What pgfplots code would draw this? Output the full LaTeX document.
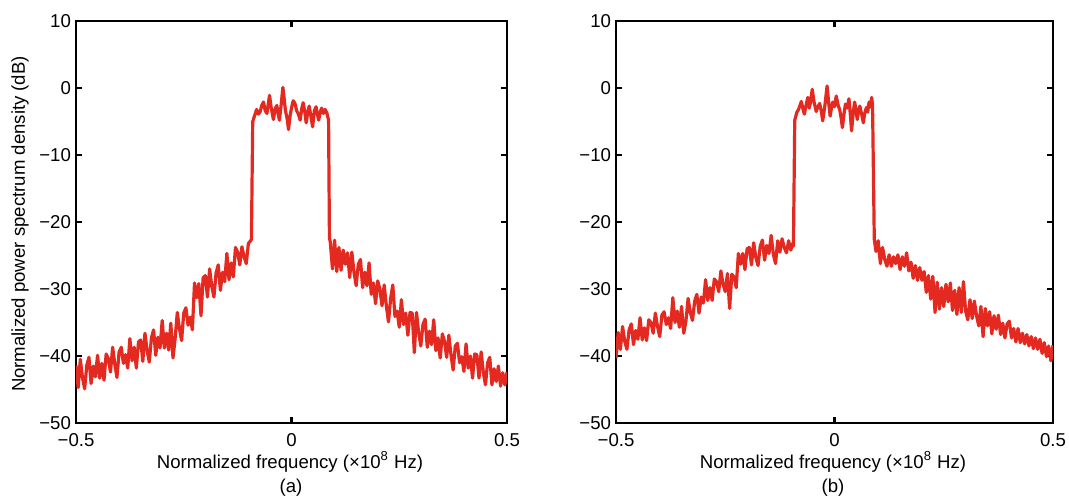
\documentclass[border=0pt]{standalone}
\usepackage{fontspec}
\setmainfont{Liberation Sans}
\usepackage{pgfplots}
\usepackage{pgfplotstable}
\pgfplotsset{compat=1.18}
\definecolor{psdred}{RGB}{228,42,32}

% Power spectrum density, case (a)
\pgfplotstableread{
x y
-0.500 -41.4
-0.495 -44.7
-0.490 -40.5
-0.485 -43.2
-0.480 -44.9
-0.475 -41.4
-0.470 -40.2
-0.465 -44.1
-0.460 -41.5
-0.455 -43.1
-0.450 -39.9
-0.445 -43.3
-0.440 -41.1
-0.435 -43.6
-0.430 -39.7
-0.425 -40.4
-0.420 -42.4
-0.415 -38.7
-0.410 -41.2
-0.405 -43.2
-0.400 -39.4
-0.395 -38.7
-0.390 -41.1
-0.385 -39.8
-0.380 -41.8
-0.375 -37.4
-0.370 -40.7
-0.365 -38.7
-0.360 -41.8
-0.355 -37.9
-0.350 -37.6
-0.345 -40.8
-0.340 -36.6
-0.335 -39.2
-0.330 -40.9
-0.325 -37.3
-0.320 -36.1
-0.315 -39.9
-0.310 -37.2
-0.305 -38.8
-0.300 -34.7
-0.295 -38.8
-0.290 -36.6
-0.285 -39.1
-0.280 -35.1
-0.275 -40.3
-0.270 -37.4
-0.265 -33.5
-0.260 -35.9
-0.255 -37.7
-0.250 -33.6
-0.245 -32.8
-0.240 -35.4
-0.235 -34.2
-0.230 -36.1
-0.225 -29.1
-0.220 -31.3
-0.215 -29.2
-0.210 -34.0
-0.205 -28.3
-0.200 -28.0
-0.195 -31.2
-0.190 -27.0
-0.185 -29.6
-0.180 -31.2
-0.175 -27.6
-0.170 -26.4
-0.165 -30.2
-0.160 -27.5
-0.155 -28.9
-0.150 -24.7
-0.145 -28.6
-0.140 -26.1
-0.135 -28.2
-0.130 -23.8
-0.125 -24.5
-0.120 -26.4
-0.115 -23.7
-0.110 -25.2
-0.105 -26.2
-0.100 -23.2
-0.095 -22.8
-0.093 -22.6
-0.090 -5.0
-0.085 -4.0
-0.081 -3.2
-0.077 -3.9
-0.073 -3.6
-0.069 -2.6
-0.065 -2.1
-0.061 -3.4
-0.057 -3.8
-0.054 -2.4
-0.051 -1.1
-0.047 -3.0
-0.042 -4.7
-0.038 -3.1
-0.034 -2.6
-0.031 -3.9
-0.028 -4.8
-0.024 -2.5
-0.020 0.1
-0.017 -1.6
-0.014 -3.4
-0.010 -4.6
-0.007 -6.2
-0.003 -4.0
0.001 -2.7
0.004 -1.9
0.008 -2.3
0.012 -3.4
0.016 -3.9
0.020 -4.8
0.024 -3.0
0.027 -2.2
0.031 -3.6
0.034 -5.2
0.038 -3.5
0.041 -2.7
0.045 -4.2
0.049 -5.8
0.053 -3.4
0.057 -2.8
0.060 -3.9
0.063 -4.8
0.067 -3.5
0.070 -3.0
0.074 -3.8
0.078 -3.2
0.082 -3.7
0.086 -4.8
0.088 -22.4
0.090 -23.0
0.095 -27.0
0.100 -22.7
0.105 -27.4
0.110 -23.8
0.115 -27.2
0.120 -24.2
0.125 -26.3
0.130 -24.6
0.135 -28.3
0.140 -24.5
0.145 -27.5
0.150 -29.5
0.155 -26.3
0.160 -25.6
0.165 -29.8
0.170 -27.5
0.175 -29.5
0.180 -26.1
0.185 -30.8
0.190 -29.1
0.195 -32.2
0.200 -28.8
0.205 -30.0
0.210 -32.5
0.215 -29.4
0.220 -32.5
0.225 -34.9
0.230 -31.4
0.235 -29.4
0.240 -34.1
0.245 -33.3
0.250 -35.7
0.255 -31.6
0.260 -35.3
0.265 -33.6
0.270 -36.9
0.275 -33.5
0.280 -33.6
0.285 -39.5
0.290 -33.5
0.295 -36.5
0.300 -38.5
0.305 -35.3
0.310 -34.5
0.315 -38.7
0.320 -36.3
0.325 -38.3
0.330 -34.6
0.335 -39.2
0.340 -37.3
0.345 -40.3
0.350 -36.7
0.355 -37.8
0.360 -40.2
0.365 -36.9
0.370 -39.8
0.375 -42.1
0.380 -38.5
0.385 -38.1
0.390 -41.0
0.395 -40.1
0.400 -42.3
0.405 -38.2
0.410 -41.8
0.415 -40.0
0.420 -43.3
0.425 -39.7
0.430 -39.8
0.435 -43.3
0.440 -39.4
0.445 -42.4
0.450 -44.3
0.455 -41.0
0.460 -40.2
0.465 -44.3
0.470 -41.9
0.475 -43.8
0.480 -41.5
0.485 -44.5
0.490 -42.5
0.495 -44.3
0.500 -42.4
}\specA

% Power spectrum density, case (b)
\pgfplotstableread{
x y
-0.500 -40.3
-0.495 -36.5
-0.490 -39.0
-0.485 -35.6
-0.480 -37.8
-0.475 -39.0
-0.470 -36.1
-0.465 -35.2
-0.460 -38.3
-0.455 -36.2
-0.450 -37.5
-0.445 -34.3
-0.440 -37.6
-0.435 -35.8
-0.430 -37.7
-0.425 -34.6
-0.420 -35.0
-0.415 -36.6
-0.410 -33.6
-0.405 -35.6
-0.400 -37.1
-0.395 -33.9
-0.390 -33.4
-0.385 -35.3
-0.380 -34.3
-0.375 -35.9
-0.370 -31.3
-0.365 -35.0
-0.360 -33.3
-0.355 -35.7
-0.350 -32.6
-0.345 -36.6
-0.340 -34.8
-0.335 -31.4
-0.330 -33.5
-0.325 -34.7
-0.320 -31.8
-0.315 -30.8
-0.310 -33.6
-0.305 -31.2
-0.300 -32.1
-0.295 -28.6
-0.290 -31.7
-0.285 -29.8
-0.280 -31.7
-0.275 -28.5
-0.270 -28.9
-0.265 -30.4
-0.260 -27.3
-0.255 -29.3
-0.250 -30.4
-0.245 -27.7
-0.240 -32.9
-0.235 -27.8
-0.230 -28.2
-0.225 -29.8
-0.220 -24.7
-0.215 -26.3
-0.210 -24.7
-0.205 -27.1
-0.200 -24.0
-0.195 -23.8
-0.190 -26.4
-0.185 -23.1
-0.180 -25.3
-0.175 -26.5
-0.170 -23.6
-0.165 -22.7
-0.160 -25.7
-0.155 -23.5
-0.150 -24.7
-0.145 -22.0
-0.140 -24.8
-0.135 -26.2
-0.130 -22.8
-0.125 -24.5
-0.120 -22.5
-0.115 -23.8
-0.110 -24.6
-0.105 -22.8
-0.100 -24.2
-0.096 -23.2
-0.094 -23.6
-0.091 -4.8
-0.086 -3.6
-0.083 -3.3
-0.079 -2.6
-0.076 -2.0
-0.072 -3.2
-0.069 -3.9
-0.065 -2.5
-0.061 -1.4
-0.058 -3.0
-0.055 -2.2
-0.051 -0.2
-0.047 -2.0
-0.042 -3.5
-0.038 -2.8
-0.034 -2.3
-0.030 -3.6
-0.027 -4.9
-0.022 -2.6
-0.017 0.3
-0.013 -2.4
-0.010 -4.2
-0.007 -3.0
-0.004 -2.1
0.000 -2.8
0.004 -1.2
0.008 -2.5
0.012 -3.3
0.015 -4.4
0.018 -5.9
0.022 -3.7
0.025 -2.4
0.029 -3.0
0.033 -1.6
0.036 -3.8
0.039 -6.4
0.043 -3.6
0.046 -2.1
0.049 -3.2
0.052 -4.7
0.055 -3.4
0.058 -2.7
0.062 -3.9
0.066 -5.2
0.069 -3.8
0.073 -2.9
0.076 -3.6
0.079 -2.1
0.082 -2.8
0.085 -1.4
0.087 -2.5
0.091 -22.6
0.095 -24.4
0.100 -22.8
0.105 -26.2
0.110 -23.8
0.115 -25.6
0.120 -26.6
0.125 -24.9
0.130 -26.6
0.135 -25.2
0.140 -26.2
0.145 -24.9
0.150 -27.1
0.155 -25.2
0.160 -26.6
0.165 -24.6
0.170 -27.3
0.175 -26.0
0.180 -28.4
0.185 -26.5
0.190 -28.7
0.195 -26.8
0.200 -28.7
0.205 -27.4
0.210 -30.5
0.215 -28.0
0.220 -31.5
0.225 -28.1
0.230 -33.5
0.235 -29.0
0.240 -33.0
0.245 -29.8
0.250 -32.6
0.255 -29.3
0.260 -31.9
0.265 -29.1
0.270 -33.2
0.275 -30.2
0.280 -33.8
0.285 -29.8
0.290 -33.5
0.295 -28.9
0.300 -33.3
0.305 -34.6
0.310 -31.6
0.315 -34.4
0.320 -31.8
0.325 -34.0
0.330 -35.5
0.335 -32.6
0.340 -37.1
0.345 -32.9
0.350 -35.5
0.355 -33.4
0.360 -36.7
0.365 -34.0
0.370 -36.0
0.375 -33.9
0.380 -36.8
0.385 -35.1
0.390 -37.3
0.395 -35.2
0.400 -34.8
0.405 -37.3
0.410 -35.9
0.415 -37.9
0.420 -35.9
0.425 -38.0
0.430 -36.6
0.435 -38.2
0.440 -36.8
0.445 -38.5
0.450 -37.1
0.455 -38.9
0.460 -37.3
0.465 -39.0
0.470 -37.5
0.475 -39.6
0.480 -38.0
0.485 -40.1
0.490 -38.5
0.495 -40.7
0.500 -38.4
}\specB

\newcommand{\labfont}{\fontsize{9.3}{11}\selectfont}

\pgfplotsset{
  psd/.style={
    scale only axis,
    height=201pt,
    anchor=south west,
    xmin=-0.5, xmax=0.5,
    ymin=-50, ymax=10,
    xtick={-0.5,0,0.5},
    xticklabels={−0.5,0,0.5},
    ytick={-50,-40,-30,-20,-10,0,10},
    yticklabels={−50,−40,−30,−20,−10,0,10},
    tick align=inside,
    major tick length=3pt,
    axis line style={line width=1.4pt},
    every tick/.style={black, line width=1.1pt},
    tick label style={font=\labfont},
    xticklabel style={yshift=-1.5pt},
    yticklabel style={xshift=1pt},
  },
  psdline/.style={psdred, line width=1.6pt, line join=round},
}

\begin{document}
\begin{tikzpicture}
\path[use as bounding box] (0pt,0pt) rectangle (534.5pt,251pt);

\begin{axis}[psd, width=215.5pt, at={(38pt,39.5pt)}]
  \addplot[psdline] table {\specA};
\end{axis}

\begin{axis}[psd, width=218.5pt, at={(308pt,39.5pt)}]
  \addplot[psdline] table {\specB};
\end{axis}

\node[rotate=90, font=\labfont] at (10pt,139pt) {Normalized power spectrum density (dB)};
\node[font=\labfont] at (145pt,20pt) {Normalized frequency (×10\textsuperscript{8} Hz)};
\node[font=\labfont] at (416.5pt,20pt) {Normalized frequency (×10\textsuperscript{8} Hz)};
\node[font=\labfont] at (145.5pt,7pt) {(a)};
\node[font=\labfont] at (416.5pt,7pt) {(b)};
\end{tikzpicture}
\end{document}
